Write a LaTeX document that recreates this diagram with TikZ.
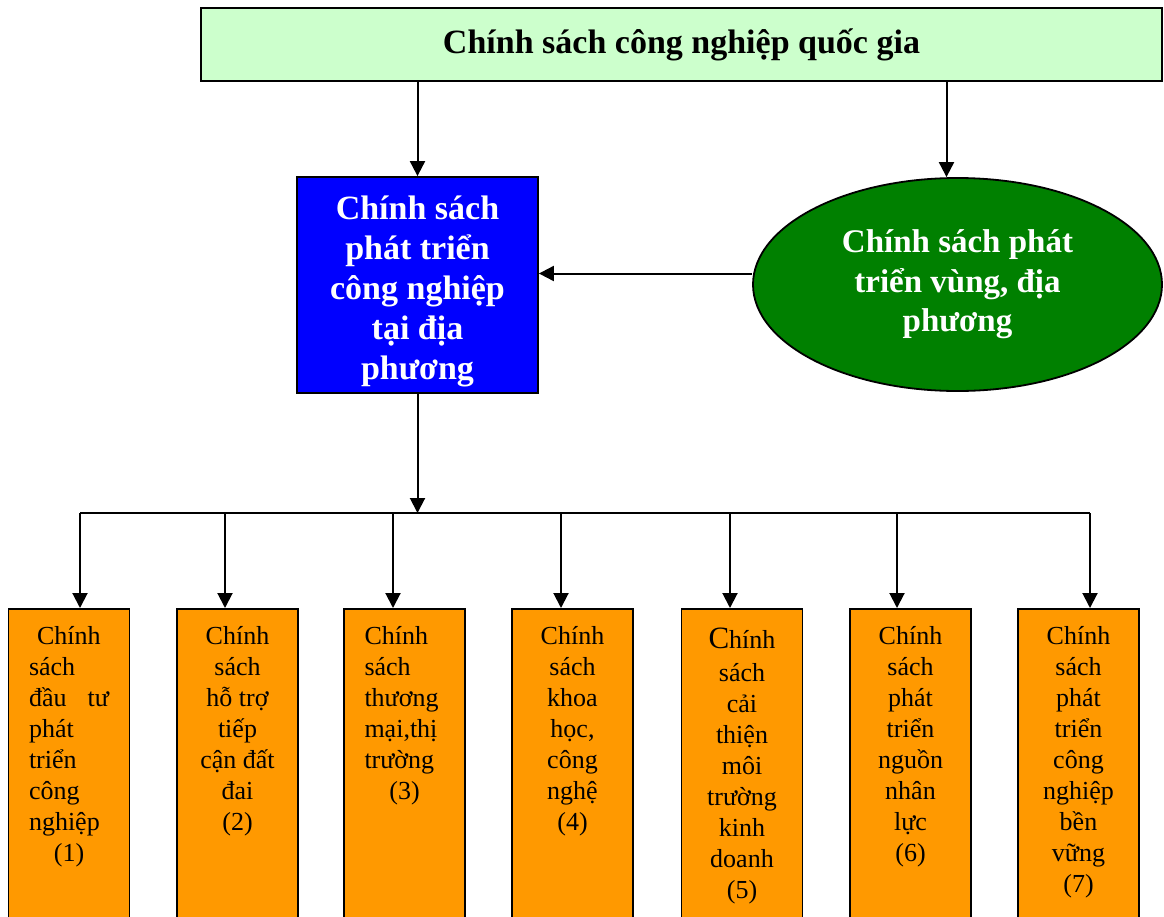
\documentclass[tikz,border=0pt]{standalone}
\usepackage{fontspec}
\setmainfont{Liberation Serif}
\usepackage{xcolor}
\usetikzlibrary{arrows.meta, positioning, shapes.geometric}

\definecolor{natgreen}{HTML}{CCFFCC}
\definecolor{localblue}{HTML}{0000FF}
\definecolor{regiongreen}{HTML}{008000}
\definecolor{policyorange}{HTML}{FF9900}

% first line of an orange box
\newcommand{\firstline}{\rule{0pt}{36pt}}

\begin{document}
\begin{tikzpicture}[
    x=1pt, y=-1pt,
    natbox/.style={
        rectangle,
        draw,
        fill=natgreen,
        line width=1.8pt,
        minimum width=961pt,
        minimum height=73pt,
        inner sep=0pt,
        font=\bfseries\fontsize{34}{39}\selectfont
    },
    localbox/.style={
        rectangle,
        draw,
        fill=localblue,
        line width=1.8pt,
        minimum width=241pt,
        minimum height=216pt,
        inner sep=0pt,
        text=white,
        align=center,
        font=\bfseries\fontsize{34}{40}\selectfont
    },
    regionbox/.style={
        ellipse,
        draw,
        fill=regiongreen,
        line width=1.8pt,
        minimum width=409pt,
        minimum height=213pt,
        inner sep=0pt,
        text=white,
        align=center,
        font=\bfseries\fontsize{33}{39.5}\selectfont
    },
    policybox/.style={
        rectangle,
        draw,
        fill=policyorange,
        line width=1.8pt,
        anchor=north,
        minimum width=121pt,
        inner sep=0pt,
        font=\fontsize{26}{31}\selectfont
    },
    line/.style={line width=2pt},
    arrow/.style={-{Triangle[length=15pt,width=15pt]}, line width=2pt}
]

\useasboundingbox (0,0) rectangle (1164,916);
\clip (0,0) rectangle (1164,916);

% --- top ---
\node[natbox] (nat) at (681.5,44.5) {Chính sách công nghiệp quốc gia};

% --- middle ---
\node[localbox] (local) at (417.5,285)
{\rule{0pt}{37pt}Chính sách\\phát triển\\công nghiệp\\tại địa\\phương};
\node[regionbox] (region) at (957.5,284.5)
{Chính sách phát\\triển vùng, địa\\phương};

% --- bottom row ---
\node[policybox] (p1) at (69,608) {\parbox[t][330pt][t]{80pt}{\raggedright
    \firstline\hspace*{8pt}Chính\\sách\\đầu\hfill tư\\phát\\triển\\công\\nghiệp\par
    {\centering (1)\par}}};
\node[policybox] (p2) at (237.5,608) {\parbox[t][330pt][t]{100pt}{\centering
    \firstline Chính\\sách\\hỗ trợ\\tiếp\\cận đất\\đai\\(2)}};
\node[policybox] (p3) at (404.5,608) {\parbox[t][330pt][t]{80pt}{\raggedright
    \firstline Chính\\sách\\thương\\mại,thị\\trường\par
    {\centering (3)\par}}};
\node[policybox] (p4) at (572.5,608) {\parbox[t][330pt][t]{100pt}{\centering
    \firstline Chính\\sách\\khoa\\học,\\công\\nghệ\\(4)}};
\node[policybox] (p5) at (742,608) {\parbox[t][330pt][t]{100pt}{\centering
    \rule{0pt}{40pt}{\fontsize{31}{31}\selectfont C}hính\\[2pt]sách\\cải\\thiện\\môi\\trường\\kinh\\doanh\\(5)}};
\node[policybox] (p6) at (910.5,608) {\parbox[t][330pt][t]{100pt}{\centering
    \firstline Chính\\sách\\phát\\triển\\nguồn\\nhân\\lực\\(6)}};
\node[policybox] (p7) at (1078.5,608) {\parbox[t][330pt][t]{100pt}{\centering
    \firstline Chính\\sách\\phát\\triển\\công\\nghiệp\\bền\\vững\\(7)}};

% --- drop points on the bus line ---
\coordinate (d1) at (80,513);
\coordinate (d2) at (225,513);
\coordinate (d3) at (393,513);
\coordinate (d4) at (561,513);
\coordinate (d5) at (730,513);
\coordinate (d6) at (897,513);
\coordinate (d7) at (1090,513);

% --- top -> middle ---
\draw[arrow] (nat.south -| local.north) -- (local.north);
\draw[arrow] ([xshift=-11pt]region.north |- nat.south) -- ([xshift=-11pt]region.north);

% --- region -> local ---
\draw[arrow] ([yshift=11pt]region.west) -- ([yshift=11pt]region.west -| local.east);

% --- local -> bus ---
\draw[arrow] (local.south) -- (local.south |- d1);
\draw[line] (d1) -- (d7);

% --- bus -> boxes ---
\draw[arrow] (d1) -- (d1 |- p1.north);
\draw[arrow] (d2) -- (d2 |- p2.north);
\draw[arrow] (d3) -- (d3 |- p3.north);
\draw[arrow] (d4) -- (d4 |- p4.north);
\draw[arrow] (d5) -- (d5 |- p5.north);
\draw[arrow] (d6) -- (d6 |- p6.north);
\draw[arrow] (d7) -- (d7 |- p7.north);

\end{tikzpicture}
\end{document}
